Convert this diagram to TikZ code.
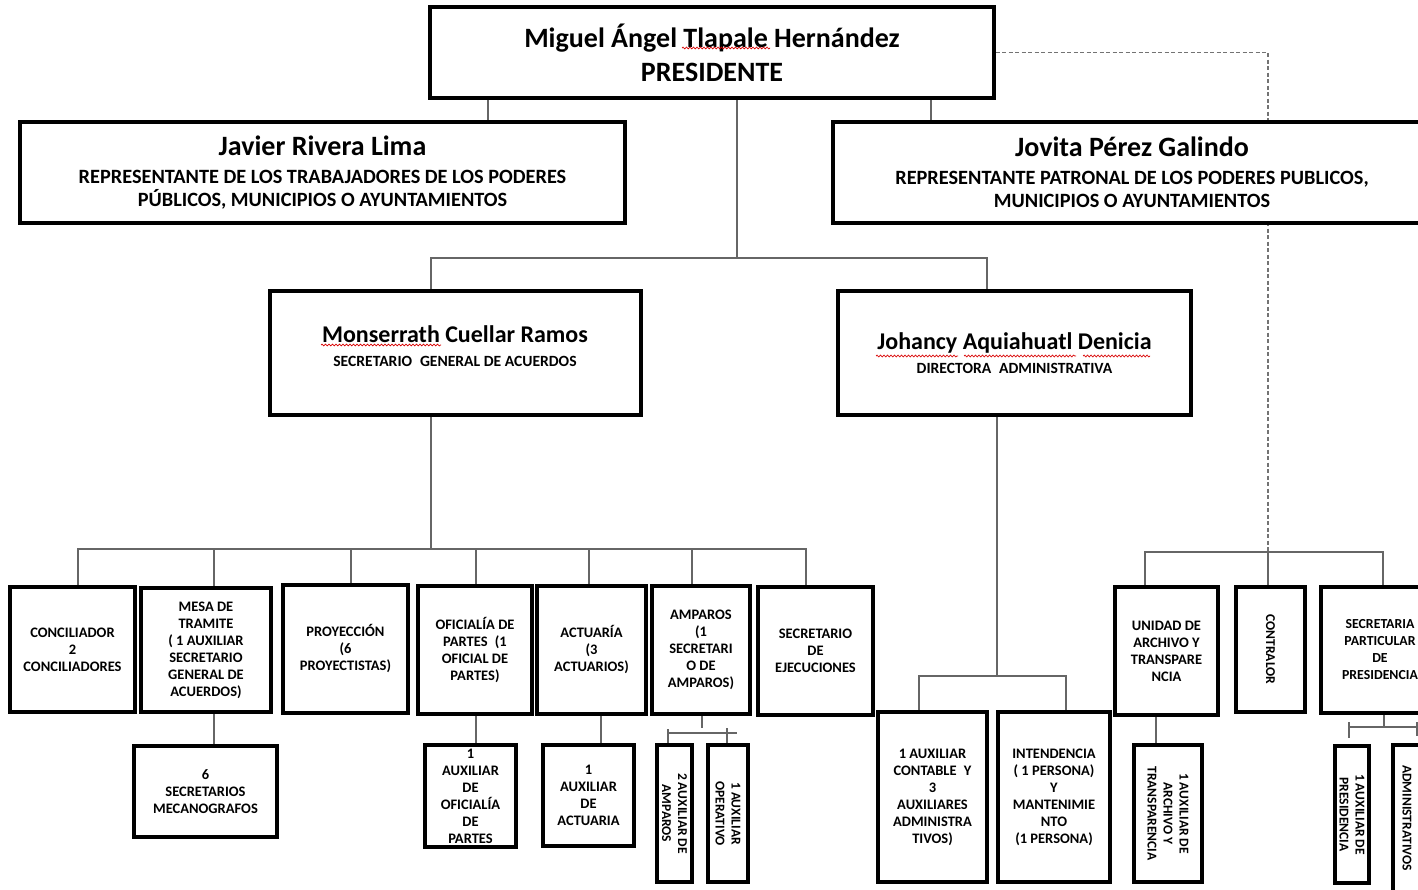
\documentclass[tikz,border=0pt]{standalone}
\usepackage{fontspec}
\setmainfont{Carlito}
\usetikzlibrary{backgrounds,decorations.pathmorphing}
\newcommand\obox[7][]{%
  \node[box,#1,minimum width={(#4)-(#2)},minimum height={(#5)-(#3)}] (#6) at ({((#2)+(#4))/2},{((#3)+(#5))/2}) {#7};}
\newcommand\orbox[7][]{%
  \node[box,rotate=-90,#1,minimum height={(#4)-(#2)},minimum width={(#5)-(#3)}] (#6) at ({((#2)+(#4))/2},{((#3)+(#5))/2}) {#7};}
\begin{document}
\begin{tikzpicture}[x=1pt,y=-1pt,
  box/.style={draw=black,line width=3.2pt,fill=white,inner sep=0pt,align=center,
     font=\bfseries\fontsize{14.5}{17}\selectfont},
  rfont/.style={font=\bfseries\fontsize{13.5}{16}\selectfont},
  conn/.style={draw=black!60,line width=1.5pt},
  dashconn/.style={draw=black!55,line width=1.3pt,dash pattern=on 4pt off 2.5pt},
  spell/.style={draw=red!85!black,line width=0.7pt,decorate,decoration={snake,amplitude=0.9pt,segment length=3.5pt}},
]
\useasboundingbox (0,0) rectangle (1418,890);

% top level
\obox[font=\bfseries\fontsize{28}{34}\selectfont]{430}{7}{994}{98}{pres}{Miguel Ángel Tlapale Hernández\\PRESIDENTE}
\obox[font=\bfseries\fontsize{20.3}{23}\selectfont]{20}{122}{625}{223}{jav}{{\fontsize{28}{30}\selectfont Javier Rivera Lima}\\[5pt]REPRESENTANTE DE LOS TRABAJADORES DE LOS PODERES\\PÚBLICOS, MUNICIPIOS O AYUNTAMIENTOS}
\obox[font=\bfseries\fontsize{20.3}{23}\selectfont]{833}{122}{1431}{223}{jov}{{\fontsize{28}{30}\selectfont Jovita Pérez Galindo}\\[5pt]REPRESENTANTE PATRONAL DE LOS PODERES PUBLICOS,\\MUNICIPIOS O AYUNTAMIENTOS}

% second level
\obox{270}{291}{641}{415}{monse}{}
\node[align=center,font=\bfseries\fontsize{15.6}{24}\selectfont] (monset) at (455,346) {{\fontsize{24}{26}\selectfont Monserrath Cuellar Ramos}\\SECRETARIO\enspace GENERAL DE ACUERDOS};
\obox[font=\bfseries\fontsize{15.6}{24}\selectfont]{838}{291}{1191}{415}{johan}{{\fontsize{24}{26}\selectfont Johancy Aquiahuatl Denicia}\\DIRECTORA\enspace ADMINISTRATIVA}

% bottom row
\obox{10}{587}{135}{712}{conc}{CONCILIADOR\\2\\CONCILIADORES}
\obox{141}{588}{271}{712}{mesa}{MESA DE\\TRAMITE\\( 1 AUXILIAR\\SECRETARIO\\GENERAL DE\\ACUERDOS)}
\obox{283}{585}{408}{713}{proy}{PROYECCIÓN\\(6\\PROYECTISTAS)}
\obox{418}{586}{532}{714}{ofi}{OFICIALÍA DE\\PARTES\enspace(1\\OFICIAL DE\\PARTES)}
\obox{537}{586}{646}{714}{act}{ACTUARÍA\\(3\\ACTUARIOS)}
\obox{652}{586}{750}{714}{amp}{AMPAROS\\(1\\SECRETARI\\O DE\\AMPAROS)}
\obox{758}{587}{873}{715}{ejec}{SECRETARIO\\DE\\EJECUCIONES}

\obox{134}{746}{277}{837}{secm}{6\\SECRETARIOS\\MECANOGRAFOS}
\obox{425}{745}{516}{847}{aofi}{1\\AUXILIAR\\DE\\OFICIALÍA\\DE\\PARTES}
\obox{543}{745}{634}{846}{aact}{1\\AUXILIAR\\DE\\ACTUARIA}
\orbox[rfont]{657}{745}{692}{882}{aamp1}{2 AUXILIAR DE\\AMPAROS}
\orbox[rfont]{708}{745}{748}{882}{aamp2}{1 AUXILIAR\\OPERATIVO}

\obox{878}{712}{987}{882}{aux}{1 AUXILIAR\\CONTABLE\enspace Y\\3\\AUXILIARES\\ADMINISTRA\\TIVOS)}
\obox{998}{712}{1110}{882}{inte}{INTENDENCIA\\( 1 PERSONA)\\Y\\MANTENIMIE\\NTO\\(1 PERSONA)}

\obox{1115}{587}{1218}{715}{unid}{UNIDAD DE\\ARCHIVO Y\\TRANSPARE\\NCIA}
\orbox[rfont]{1236}{587}{1305}{712}{contra}{CONTRALOR}
\obox[font=\bfseries\fontsize{13.8}{17}\selectfont]{1321}{587}{1439}{713}{secp}{SECRETARIA\\PARTICULAR\\DE\\PRESIDENCIA}
\orbox[rfont]{1134}{745}{1202}{882}{uaux}{1 AUXILIAR DE\\ARCHIVO Y\\TRANSPARENCIA}
\orbox[rfont]{1335}{746}{1369}{883}{paux}{1 AUXILIAR DE\\PRESIDENCIA}
\obox{1393}{745}{1450}{905}{padm}{}
\node[rfont,rotate=-90] (padmt) at (1407,818) {ADMINISTRATIVOS};

% connectors
\begin{scope}[on background layer]
\coordinate (tJ) at (488,0); \coordinate (tV) at (931,0);
\draw[conn] (tJ |- pres.south) -- (tJ |- jav.north);
\draw[conn] (tV |- pres.south) -- (tV |- jov.north);
\coordinate (hb) at (737,258);
\coordinate (hbl) at (431,258); \coordinate (hbr) at (987,258);
\draw[conn] (hb |- pres.south) -- (hb);
\draw[conn] (hbl |- monse.north) -- (hbl) -- (hbr) -- (hbr |- johan.north);
\coordinate (rb) at (1268,552);
\draw[dashconn] (pres.east) -| (rb);

\coordinate (mb) at (431,549);
\draw[conn] (mb |- monse.south) -- (mb);
\coordinate (l1) at (78,549); \coordinate (l7) at (806,549);
\draw[conn] (l1 |- conc.north) -- (l1) -- (l7) -- (l7 |- ejec.north);
\foreach \n/\x in {mesa/214,proy/351,ofi/476,act/589,amp/692}
  \draw[conn] (\x,549) -- (\x,549 |- \n.north);

\draw[conn] (214,0 |- mesa.south) -- (214,0 |- secm.north);
\draw[conn] (476,0 |- ofi.south) -- (476,0 |- aofi.north);
\draw[conn] (601,0 |- act.south) -- (601,0 |- aact.north);

\coordinate (as) at (702,728);
\draw[conn] (as |- amp.south) -- (as);
\coordinate (abl) at (668,733); \coordinate (abr) at (737,733);
\draw[conn] (abl) -- (abr);
\draw[conn] (668,729) -- (668,0 |- aamp1.west);
\draw[conn] (727,728) -- (727,0 |- aamp2.west);

\coordinate (jb) at (997,676);
\draw[conn] (jb |- johan.south) -- (jb);
\coordinate (jl) at (919,676); \coordinate (jr) at (1066,676);
\draw[conn] (jl |- aux.north) -- (jl) -- (jr) -- (jr |- inte.north);

\coordinate (rl) at (1145,552); \coordinate (rr) at (1383,552);
\draw[conn] (rl |- unid.north) -- (rl) -- (rr) -- (rr |- secp.north);
\draw[conn] (rb) -- (rb |- contra.west);
\draw[conn] (1156,0 |- unid.south) -- (1156,0 |- uaux.west);

\coordinate (sb) at (1384,727);
\draw[conn] (sb |- secp.south) -- (sb);
\draw[conn] (1349,727) -- (1430,727);
\draw[conn] (1349,722) -- (1349,738);
\draw[conn] (1417,722) -- (1417,736);
\end{scope}

% spell-check marks
\draw[spell] (682,48) -- (770,48);
\draw[spell] (321,345) -- (441,345);
\draw[spell] (876,356) -- (958,356);
\draw[spell] (964,356) -- (1076,356);
\draw[spell] (1083,356) -- (1150,356);
\end{tikzpicture}
\end{document}
